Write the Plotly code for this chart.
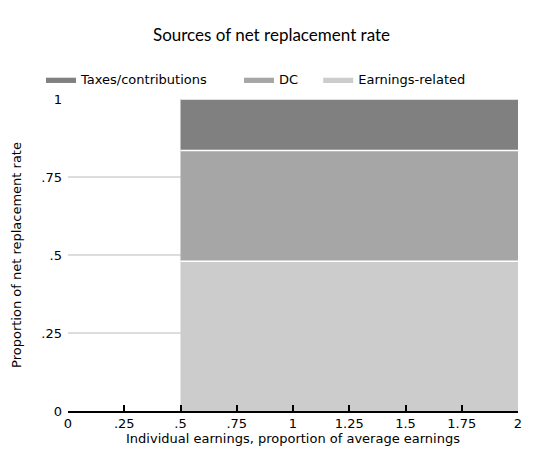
import plotly.graph_objects as go

# individual earnings (proportion of average earnings)
earnings = [0.5, 0.75, 1.0, 1.25, 1.5, 1.75, 2.0]
# shares of the net replacement rate
earnings_related = [0.48, 0.48, 0.48, 0.48, 0.48, 0.48, 0.48]
dc = [0.355, 0.355, 0.355, 0.355, 0.355, 0.355, 0.355]
taxes = [0.165, 0.165, 0.165, 0.165, 0.165, 0.165, 0.165]

x_ticks = [0, 0.25, 0.5, 0.75, 1, 1.25, 1.5, 1.75, 2]
x_labels = ["0", ".25", ".5", ".75", "1", "1.25", "1.5", "1.75", "2"]
y_ticks = [0, 0.25, 0.5, 0.75, 1]
y_labels = ["0", ".25", ".5", ".75", "1"]

FONT = "DejaVu Sans"

fig = go.Figure()
for name, vals, col, leg in [
    ("Earnings-related", earnings_related, "#CCCCCC", "legend3"),
    ("DC", dc, "#A6A6A6", "legend2"),
    ("Taxes/contributions", taxes, "#808080", "legend"),
]:
    fig.add_trace(go.Scatter(
        x=earnings, y=vals, name=name, mode="lines", stackgroup="one",
        fillcolor=col, line=dict(color="white", width=1.5), legend=leg,
    ))

leg_style = dict(orientation="h", xanchor="left", y=1.016, yanchor="bottom",
                 font=dict(size=13), itemwidth=30, bgcolor="rgba(0,0,0,0)")

# page has an 8px body margin, so the figure is shrunk and shifted by that
fig.update_layout(
    width=527, height=448,
    paper_bgcolor="white", plot_bgcolor="white",
    margin=dict(l=60, r=17, t=91, b=45),
    font=dict(family=FONT, size=13, color="black"),
    title=dict(text="Sources of net replacement rate", x=0.5, xanchor="center",
               y=0.94, yanchor="middle",
               font=dict(family="Lato", size=17, color="black")),
    legend=dict(x=-0.06, **leg_style),
    legend2=dict(x=0.38, **leg_style),
    legend3=dict(x=0.556, **leg_style),
    showlegend=True,
)
fig.update_xaxes(
    range=[0, 2], tickvals=x_ticks, ticktext=x_labels, automargin=False,
    showgrid=False, zeroline=False, showline=True, linecolor="black", linewidth=1.5,
    ticks="inside", ticklen=6, tickcolor="black", tickwidth=1.5,
    title=dict(text="Individual earnings, proportion of average earnings",
               font=dict(size=13), standoff=0),
)
fig.update_yaxes(
    range=[0, 1], tickvals=y_ticks, ticktext=y_labels, automargin=False,
    showgrid=True, gridcolor="#DDDDDD", gridwidth=1.5, zeroline=False, showline=False,
    ticks="", ticklabelstandoff=5,
    title=dict(text="Proportion of net replacement rate", font=dict(size=13), standoff=16),
)

fig.write_html("out.html")
